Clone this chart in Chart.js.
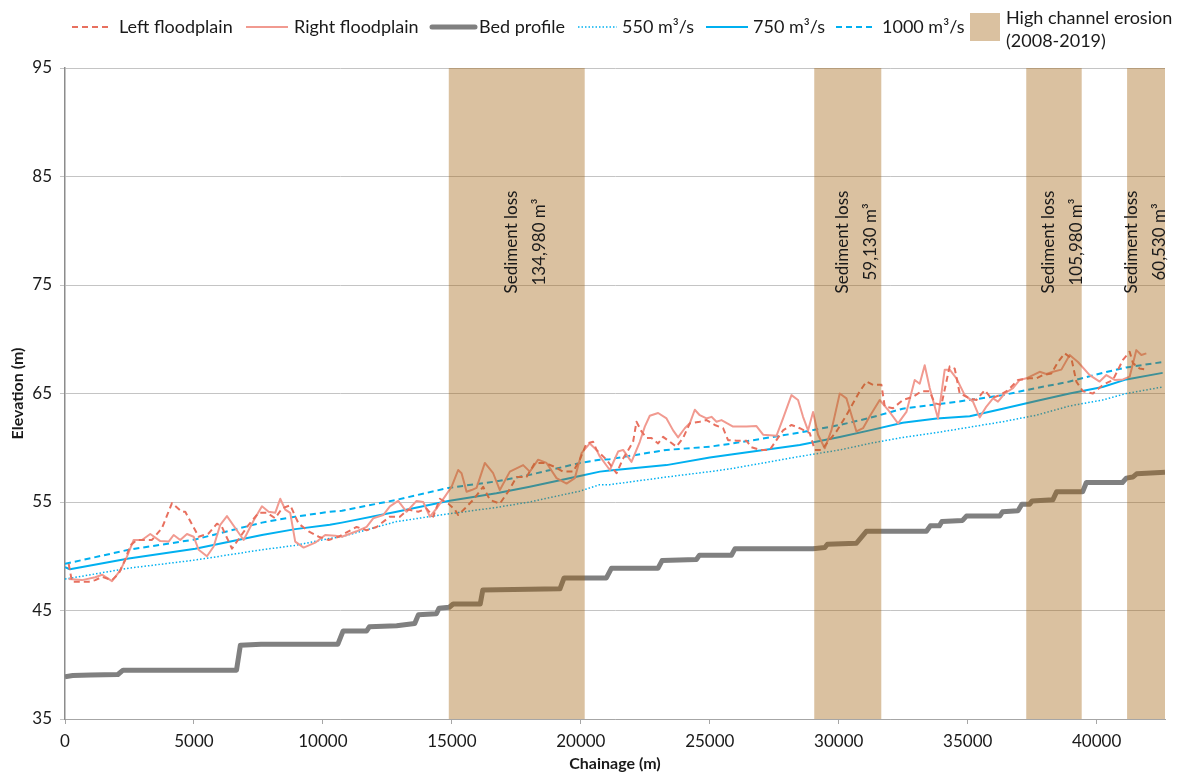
<!DOCTYPE html>
<html><head><meta charset="utf-8">
<script src="https://cdn.jsdelivr.net/npm/chart.js@4/dist/chart.umd.min.js"></script>
<style>html,body{margin:0;padding:0;background:#fff}#wrap{width:1181px;height:778px}</style>
</head><body><div id="wrap"><canvas id="c" width="1181" height="778"></canvas></div>
<script>
// ---- Data ----
const xTicks = [0,5000,10000,15000,20000,25000,30000,35000,40000];
const yTicks = [35,45,55,65,75,85,95];

const leftX = [143,271,919,1174,1434,1822,2081,2337,2531,2791,3372,3760,4147,4535,4663,5182,5570,5891,6085,6473,6795,7120,7508,7829,8151,8411,8733,9058,9446,9833,10221,10608,11306,11694,12081,12597,12984,13306,13694,14019,14275,14535,14857,15116,15244,15504,15826,16213,16473,16860,17182,17508,17895,18217,18605,18926,19314,19702,19961,20221,20477,20609,20736,20996,21384,21640,22027,22159,22353,22547,22740,22996,23190,23450,23709,23965,24225,24612,24872,25194,25516,25709,26035,26422,26616,26938,27326,27841,28167,28488,28876,29070,29329,29585,29911,30298,30554,30814,31073,31329,31655,31783,32105,32492,32880,33205,33527,33721,33981,34302,34496,34690,35078,35337,35659,35919,36240,36562,36950,37403,37663,37919,38244,38500,38760,39019,39213,39469,39857,40244,40632,41019,41279,41407,41667,41926];
const leftY = [49.3,47.65,47.65,47.8,48.1,47.8,48.4,49.7,51.0,51.5,51.5,52.6,54.9,54.1,54.1,51.8,52.1,53.0,52.7,50.7,51.8,52.9,54.0,54.0,53.5,54.4,54.7,53.0,52.3,51.8,51.5,51.8,52.7,52.4,52.7,53.65,53.65,54.3,54.1,54.4,53.65,55.3,54.85,54.3,53.8,54.4,55.2,56.4,55.2,54.85,55.95,57.3,57.3,58.6,58.6,58.3,57.8,57.8,58.9,60.4,60.55,59.8,59.5,58.9,57.65,59.0,60.55,62.4,61.5,60.9,60.9,60.4,61.0,60.55,60.1,60.9,62.25,62.4,62.55,62.1,61.8,60.7,60.65,60.65,60.05,59.8,59.8,61.6,62.1,61.8,61.35,59.8,59.8,60.55,61.5,63.0,64.1,65.2,66.1,65.8,65.8,63.8,63.65,64.4,64.7,65.2,65.2,64.1,63.95,67.5,67.3,65.0,64.55,64.4,65.3,64.55,64.85,65.3,66.25,66.4,66.4,66.7,66.85,67.9,68.7,68.25,66.1,65.2,65.0,65.8,66.25,68.1,68.85,67.8,67.3,67.2];

const rightX = [143,659,1174,1434,1822,2143,2403,2663,2984,3306,3694,4019,4213,4469,4729,4988,5182,5504,5764,6019,6279,6601,6926,7314,7636,7895,8151,8345,8539,8733,8926,9252,9701,10089,10477,10736,11306,11694,11950,12337,12597,12919,13244,13632,13888,14147,14407,14729,14988,15244,15376,15570,15764,15957,16279,16601,16860,17248,17764,18023,18345,18671,19058,19446,19767,20027,20349,20609,20736,21124,21446,21640,21965,22287,22481,22674,22996,23322,23578,23771,24031,24225,24419,24612,24872,25066,25260,25453,25903,26422,26810,27066,27585,27841,28167,28422,28616,28810,29004,29198,29457,29717,30039,30298,30686,30942,31202,31589,31911,32298,32624,32946,33140,33333,33527,33849,34109,34302,34562,34884,35205,35465,35725,35981,36174,36434,36756,37016,37275,37531,37791,38050,38306,38632,38953,39275,39729,40116,40376,40698,41019,41279,41539,41733,41926];
const rightY = [47.9,47.8,48.06,48.3,47.7,48.7,49.96,51.5,51.5,52.05,51.4,51.35,51.96,51.5,52.05,51.8,50.6,50.0,50.9,52.9,53.7,52.6,51.5,53.3,54.6,54.1,54.0,55.3,54.3,54.0,51.35,50.8,51.25,51.96,51.9,51.8,52.3,52.7,53.5,53.8,54.6,55.1,54.1,55.1,55.0,53.65,54.4,55.5,56.4,57.95,57.65,55.95,56.1,56.3,58.6,57.65,56.1,57.8,58.4,57.8,58.9,58.6,57.2,56.7,57.2,59.5,60.4,59.8,59.2,57.95,59.65,59.8,58.7,60.55,61.95,62.95,63.2,62.7,61.6,60.95,61.8,62.25,63.5,63.0,62.7,62.85,62.4,62.55,61.95,61.95,62.0,61.2,61.1,62.7,64.85,64.4,62.85,61.6,63.3,61.2,59.95,61.6,65.0,64.55,61.5,61.8,62.9,64.4,63.5,62.25,63.3,66.25,65.9,67.6,65.5,62.7,67.2,67.2,66.4,64.85,64.25,62.8,63.8,64.55,64.25,65.0,65.5,66.25,66.4,66.7,67.0,66.8,67.0,67.2,68.55,67.9,66.7,66.1,66.7,66.25,66.3,66.55,69.0,68.55,68.7];

const bedX = [0,300,1000,2050,2250,6650,6800,7600,10580,10780,11690,11800,12860,13560,13700,14400,14500,14900,15050,16100,16200,19190,19350,20990,21190,22995,23150,24480,24600,25840,25980,29000,29460,29560,30685,31070,33400,33550,33900,34000,34800,34950,36240,36350,36950,37100,37400,37500,38300,38450,39460,39600,41000,41150,41400,41550,42650];
const bedY = [38.9,39.0,39.05,39.1,39.5,39.5,41.8,41.9,41.9,43.1,43.1,43.5,43.6,43.8,44.6,44.7,45.2,45.3,45.6,45.6,46.9,47.0,48.0,48.0,48.9,48.9,49.6,49.7,50.1,50.1,50.7,50.7,50.8,51.1,51.2,52.3,52.3,52.8,52.8,53.2,53.3,53.7,53.7,54.1,54.2,54.8,54.8,55.1,55.2,55.95,55.95,56.8,56.8,57.2,57.3,57.6,57.75];

const wsX   = [0,190,2470,5050,7636,8926,10270,10736,12856,14857,16730,18020,19960,20740,21120,23320,25000,25900,28490,30040,31200,32480,33800,35080,36360,37660,38950,40230,41150,42560];
const q550  = [47.9,47.97,48.9,49.65,50.6,51.0,51.65,51.8,53.2,53.9,54.5,55.0,56.0,56.6,56.6,57.3,57.8,58.1,59.2,59.8,60.4,60.95,61.4,61.9,62.4,63.0,63.85,64.4,65.0,65.6];
const q750  = [49.0,48.8,49.8,50.7,51.96,52.5,52.9,53.1,54.1,55.1,55.8,56.4,57.4,57.8,57.9,58.4,59.1,59.4,60.25,61.0,61.6,62.3,62.7,62.9,63.6,64.3,65.0,65.6,66.3,66.9];
const q1000 = [49.3,49.4,50.6,51.55,53.1,53.65,54.1,54.2,55.2,56.3,56.9,57.5,58.6,58.9,58.95,59.8,60.1,60.4,61.4,62.1,62.75,63.6,64.0,64.4,64.85,65.5,66.1,66.9,67.4,67.9];

const bandStart = [14880,29050,37270,41180];
const bandEnd   = [20150,31650,39420,42650];
const bandLoss  = ['134,980 m³','59,130 m³','105,980 m³','60,530 m³'];
const seriesNames = ['Left floodplain','Right floodplain','Bed profile','550 m³/s','750 m³/s','1000 m³/s'];
const bandName = ['High channel erosion','(2008-2019)'];
const xMax = 42650;

// ---- Styles ----
const FONT = 'Lato, "Open Sans", "Noto Sans", sans-serif';
const TXT = '#1a1a1a';
const C_LEFT = '#E8705F', C_RIGHT = '#F19A90', C_BED = '#808080', C_BLUE = '#00B0F0';
const BAND_FILL = 'rgba(160,96,11,0.39)';
const BAND_SWATCH = 'rgb(218,193,160)';

const pts = (xs, ys) => xs.map((x, i) => ({x, y: ys[i]}));
const styles = [
  {borderColor: C_LEFT, borderWidth: 2, borderDash: [6,4]},
  {borderColor: C_RIGHT, borderWidth: 2, borderDash: []},
  {borderColor: C_BED, borderWidth: 5, borderDash: []},
  {borderColor: C_BLUE, borderWidth: 1.5, borderDash: [1.5,2]},
  {borderColor: C_BLUE, borderWidth: 2, borderDash: []},
  {borderColor: C_BLUE, borderWidth: 2, borderDash: [6,4]}
];
const seriesData = [pts(leftX,leftY), pts(rightX,rightY), pts(bedX,bedY), pts(wsX,q550), pts(wsX,q750), pts(wsX,q1000)];
const datasets = seriesData.map((d, i) => Object.assign({
  label: seriesNames[i], data: d, showLine: true, pointRadius: 0, fill: false,
  tension: 0, borderJoinStyle: 'round', borderCapStyle: 'butt'
}, styles[i]));

const bandsPlugin = {
  id: 'bands',
  afterDatasetsDraw(chart) {
    const {ctx, chartArea: a, scales: {x}} = chart;
    ctx.save();
    ctx.fillStyle = BAND_FILL;
    bandStart.forEach((s, i) => {
      const x0 = x.getPixelForValue(s), x1 = Math.min(x.getPixelForValue(bandEnd[i]), a.right);
      ctx.fillRect(x0, a.top, x1 - x0, a.bottom - a.top);
    });
    ctx.fillStyle = TXT;
    ctx.font = '17px ' + FONT;
    ctx.textAlign = 'center';
    ctx.textBaseline = 'middle';
    bandStart.forEach((s, i) => {
      const x0 = x.getPixelForValue(s), x1 = Math.min(x.getPixelForValue(bandEnd[i]), a.right);
      let cx = (x0 + x1) / 2 + 9;
      if (cx + 14 > a.right - 5) cx = a.right - 5 - 14;
      const cy = 242;
      [['Sediment loss', cx - 14], [bandLoss[i], cx + 14]].forEach(([t, px]) => {
        ctx.save();
        ctx.translate(px, cy);
        ctx.rotate(-Math.PI / 2);
        ctx.fillText(t, 0, 0);
        ctx.restore();
      });
    });
    ctx.restore();
  }
};

const legendPlugin = {
  id: 'customLegend',
  afterDraw(chart) {
    const ctx = chart.ctx;
    ctx.save();
    ctx.font = '18px ' + FONT;
    ctx.fillStyle = TXT;
    ctx.textBaseline = 'middle';
    ctx.textAlign = 'left';
    const y = 27;
    const items = [[72,110,119],[246,288,294],[432,475,479],[578,617,622],[706,748,753],[836,875,882]];
    items.forEach(([s0, s1, tx], i) => {
      const st = styles[i];
      ctx.beginPath();
      ctx.strokeStyle = st.borderColor;
      ctx.lineWidth = st.borderWidth;
      ctx.setLineDash(st.borderDash);
      ctx.lineCap = i === 2 ? 'round' : 'butt';
      ctx.moveTo(s0, y); ctx.lineTo(s1, y);
      ctx.stroke();
      ctx.setLineDash([]);
      ctx.fillText(seriesNames[i], tx, y);
    });
    ctx.fillStyle = BAND_SWATCH;
    ctx.fillRect(970, 13, 30, 28);
    ctx.fillStyle = TXT;
    ctx.fillText(bandName[0], 1006, 18);
    ctx.fillText(bandName[1], 1006, 41);
    ctx.restore();
  }
};

new Chart(document.getElementById('c').getContext('2d'), {
  type: 'scatter',
  data: {datasets},
  options: {
    responsive: false, animation: false, devicePixelRatio: 1,
    layout: {padding: {top: 68, right: 16, left: 0, bottom: 0}},
    plugins: {legend: {display: false}, tooltip: {enabled: false}},
    scales: {
      x: {
        type: 'linear', min: 0, max: xMax,
        afterBuildTicks: s => { s.ticks = xTicks.map(v => ({value: v})); },
        afterFit: s => { s.height = 59; },
        ticks: {font: {family: FONT, size: 17}, color: TXT, padding: 7, maxRotation: 0, autoSkip: false,
                callback: v => String(v)},
        grid: {drawOnChartArea: false, drawTicks: true, tickLength: 5, color: '#a6a6a6'},
        border: {color: '#a6a6a6', width: 1},
        title: {display: true, text: 'Chainage (m)', color: TXT, font: {family: FONT, size: 16, weight: 'bold'}, padding: {top: 0, bottom: 5}}
      },
      y: {
        min: 35, max: 95,
        afterBuildTicks: s => { s.ticks = yTicks.map(v => ({value: v})); },
        afterFit: s => { s.width = 65; },
        ticks: {font: {family: FONT, size: 17}, color: TXT, padding: 8},
        grid: {color: '#c4c4c4', lineWidth: 1, drawTicks: true, tickLength: 5},
        border: {color: '#8c8c8c', width: 1.5},
        title: {display: true, text: 'Elevation (m)', color: TXT, font: {family: FONT, size: 16, weight: 'bold'}, padding: {top: 8, bottom: 0}}
      }
    }
  },
  plugins: [bandsPlugin, legendPlugin]
});
</script>
</body></html>
